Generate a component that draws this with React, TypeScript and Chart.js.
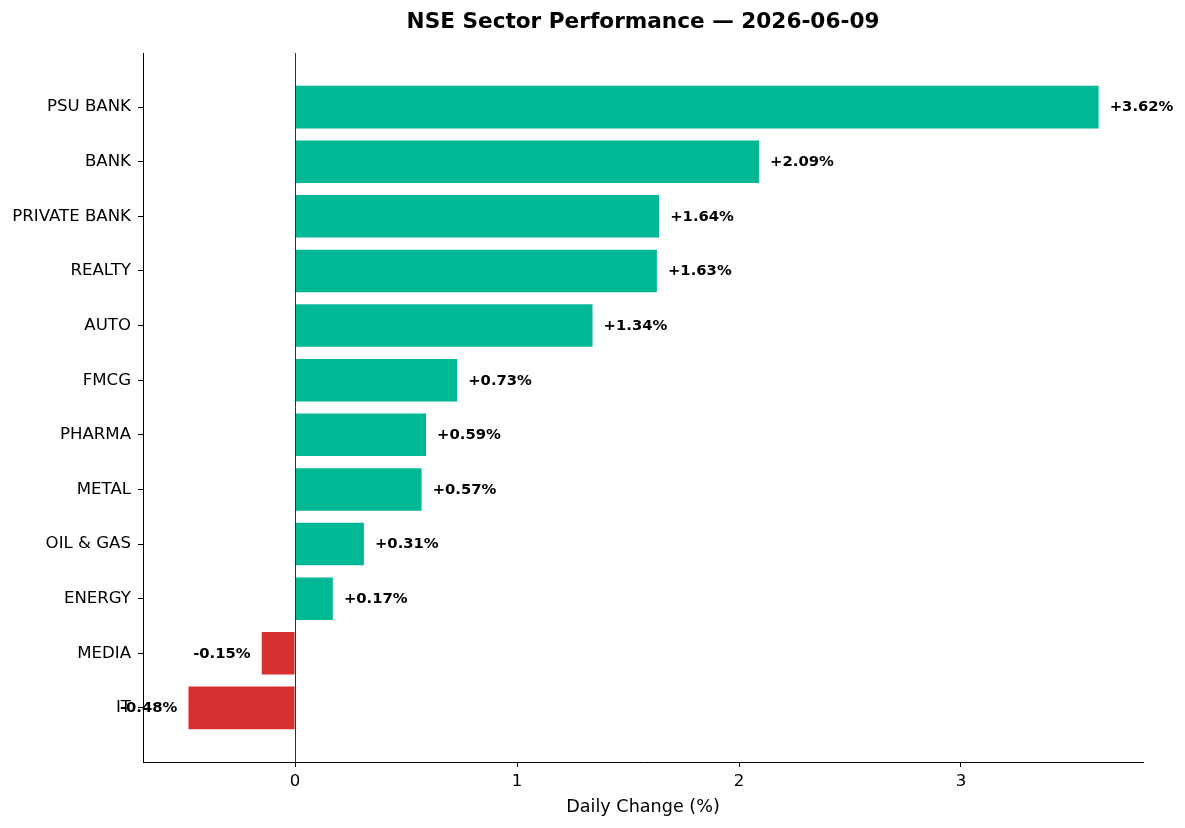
import React, { useEffect, useRef } from "react";
import { Chart, registerables } from "chart.js";

Chart.register(...registerables);

const categories = [
  "PSU BANK",
  "BANK",
  "PRIVATE BANK",
  "REALTY",
  "AUTO",
  "FMCG",
  "PHARMA",
  "METAL",
  "OIL & GAS",
  "ENERGY",
  "MEDIA",
  "IT",
];
const changes = [3.62, 2.09, 1.64, 1.63, 1.34, 0.73, 0.59, 0.57, 0.31, 0.17, -0.15, -0.48];
const xTicks = [0, 1, 2, 3];
const titleText = "NSE Sector Performance — 2026-06-09";
const xLabelText = "Daily Change (%)";

const POS_COLOR = "#00b894";
const NEG_COLOR = "#d63031";
const FONT = '"DejaVu Sans", sans-serif';

const overlayPlugin = {
  id: "overlay",
  afterDatasetsDraw(chart: any) {
    const { ctx, chartArea, scales } = chart;
    const x = scales.x;
    ctx.save();
    // zero line
    const x0 = Math.round(x.getPixelForValue(0)) + 0.5;
    ctx.strokeStyle = "#333333";
    ctx.lineWidth = 1;
    ctx.beginPath();
    ctx.moveTo(x0, chartArea.top);
    ctx.lineTo(x0, chartArea.bottom);
    ctx.stroke();

    // value labels
    ctx.font = `bold 14.8px ${FONT}`;
    ctx.fillStyle = "#000000";
    ctx.textBaseline = "middle";
    const meta = chart.getDatasetMeta(0);
    meta.data.forEach((el: any, i: number) => {
      const v = changes[i];
      const pos = v >= 0;
      const px = x.getPixelForValue(v + (pos ? 0.05 : -0.05));
      ctx.textAlign = pos ? "left" : "right";
      ctx.fillText(`${pos ? "+" : ""}${v.toFixed(2)}%`, px, el.y + 0.5);
    });

    // title
    const cx = (chartArea.left + chartArea.right) / 2;
    ctx.textAlign = "center";
    ctx.textBaseline = "alphabetic";
    ctx.font = `bold 21.6px ${FONT}`;
    ctx.fillText(titleText, cx, 28);

    // x axis label
    ctx.font = `17.6px ${FONT}`;
    ctx.fillText(xLabelText, cx, 812);
    ctx.restore();
  },
};

export default function App() {
  const canvasRef = useRef<HTMLCanvasElement | null>(null);

  useEffect(() => {
    const canvas = canvasRef.current;
    if (!canvas) return;
    const chart = new Chart(canvas, {
      type: "bar",
      data: {
        datasets: [
          {
            data: changes.map((v, i) => ({ x: v, y: i })),
            backgroundColor: changes.map((v) => (v >= 0 ? POS_COLOR : NEG_COLOR)),
            borderWidth: 0,
            barPercentage: 0.78,
            categoryPercentage: 1,
          },
        ],
      },
      options: {
        indexAxis: "y",
        responsive: false,
        animation: false,
        devicePixelRatio: 1,
        layout: { padding: { top: 53, right: 42, left: 0, bottom: 0 } },
        plugins: {
          legend: { display: false },
          title: { display: false },
          tooltip: { enabled: false },
        },
        scales: {
          x: {
            type: "linear",
            position: "bottom",
            min: -0.685,
            max: 3.82,
            offset: false,
            afterBuildTicks: (s: any) => {
              s.ticks = xTicks.map((v) => ({ value: v }));
            },
            afterFit: (s: any) => {
              s.height = 66;
            },
            ticks: {
              color: "#000000",
              font: { family: FONT, size: 16.6 },
              padding: 5,
              callback: (v: any) => String(v),
            },
            grid: {
              offset: false,
              drawOnChartArea: false,
              drawTicks: true,
              tickLength: 5,
              tickColor: "#000000",
              tickWidth: 1,
            },
            border: { display: true, color: "#000000", width: 1 },
          },
          y: {
            type: "linear",
            position: "left",
            min: -0.99,
            max: 11.99,
            reverse: true,
            offset: false,
            afterBuildTicks: (s: any) => {
              s.ticks = categories.map((_, i) => ({ value: i }));
            },
            afterFit: (s: any) => {
              s.width = 143;
            },
            ticks: {
              color: "#000000",
              font: { family: FONT, size: 16.6 },
              padding: 7,
              autoSkip: false,
              callback: (v: any) => categories[v] ?? "",
            },
            grid: {
              offset: false,
              drawOnChartArea: false,
              drawTicks: true,
              tickLength: 5,
              tickColor: "#000000",
              tickWidth: 1,
            },
            border: { display: true, color: "#000000", width: 1 },
          },
        },
      },
      plugins: [overlayPlugin],
    } as any);
    return () => chart.destroy();
  }, []);

  return (
    <div style={{ position: "fixed", left: 0, top: 0, width: 1185, height: 828, background: "#ffffff" }}>
      <canvas ref={canvasRef} width={1185} height={828} style={{ display: "block" }} />
    </div>
  );
}
